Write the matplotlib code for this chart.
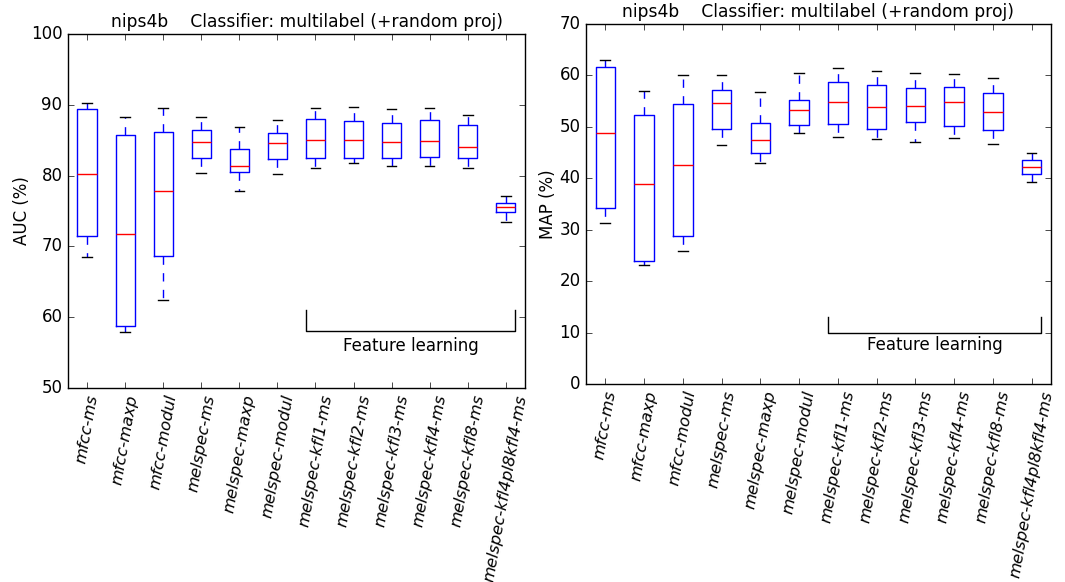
import matplotlib
matplotlib.use("Agg")
import matplotlib.pyplot as plt

plt.style.use('classic')
plt.rcParams['font.family'] = ['DejaVu Sans']
plt.rcParams['font.size'] = 12

labels = ['mfcc-ms', 'mfcc-maxp', 'mfcc-modul', 'melspec-ms', 'melspec-maxp',
          'melspec-modul', 'melspec-kfl1-ms', 'melspec-kfl2-ms', 'melspec-kfl3-ms',
          'melspec-kfl4-ms', 'melspec-kfl8-ms', 'melspec-kfl4pl8kfl4-ms']

# AUC (%) box stats: whisker low, q1, median, q3, whisker high
auc_lo  = [68.5, 57.9, 62.4, 80.4, 77.9, 80.3, 81.1, 81.8, 81.3, 81.4, 81.1, 73.5]
auc_q1  = [71.5, 58.7, 68.6, 82.5, 80.5, 82.3, 82.5, 82.5, 82.5, 82.6, 82.5, 74.8]
auc_med = [80.3, 71.7, 77.8, 84.8, 81.3, 84.6, 85.0, 85.0, 84.8, 84.9, 84.0, 75.6]
auc_q3  = [89.4, 85.8, 86.2, 86.5, 83.7, 86.0, 88.0, 87.7, 87.4, 87.8, 87.1, 76.2]
auc_hi  = [90.3, 88.3, 89.6, 88.3, 86.9, 87.9, 89.5, 89.7, 89.4, 89.5, 88.6, 77.1]

# MAP (%) box stats
map_lo  = [31.3, 23.1, 25.9, 46.4, 42.9, 48.9, 48.1, 47.6, 47.1, 47.8, 46.6, 39.3]
map_q1  = [34.2, 24.0, 28.8, 49.6, 44.9, 50.4, 50.5, 49.6, 50.9, 50.1, 49.4, 40.8]
map_med = [48.9, 38.8, 42.6, 54.7, 47.4, 53.3, 54.8, 53.9, 54.0, 54.8, 52.8, 42.1]
map_q3  = [61.7, 52.3, 54.5, 57.2, 50.8, 55.2, 58.7, 58.1, 57.5, 57.8, 56.5, 43.6]
map_hi  = [63.0, 56.9, 60.1, 60.1, 56.8, 60.4, 61.5, 60.9, 60.5, 60.2, 59.4, 44.9]

title = 'nips4b    Classifier: multilabel (+random proj)'


def make_stats(lo, q1, med, q3, hi):
    return [{'whislo': a, 'q1': b, 'med': c, 'q3': d, 'whishi': e, 'fliers': []}
            for a, b, c, d, e in zip(lo, q1, med, q3, hi)]


def draw_panel(ax, stats, ylabel, ylim, bracket_y, text_y, label_x, title_x):
    ax.bxp(stats, showfliers=False)
    ax.set_xlim(0.5, len(labels) + 0.5)
    ax.set_ylim(*ylim)
    ax.set_xticks(range(1, len(labels) + 1))
    ax.set_xticklabels(labels, rotation=80, style='italic', fontsize=11.7)
    ax.set_ylabel(ylabel)
    ax.yaxis.set_label_coords(label_x, 0.5)
    ax.set_title(title, fontsize=12.3, x=title_x)
    # bracket marking the feature learning group
    top, bottom = bracket_y
    ax.plot([6.75, 6.75, 12.25, 12.25], [top, bottom, bottom, top], color='k', lw=1)
    ax.text(9.5, text_y, 'Feature learning', ha='center', va='center')


fig = plt.figure(figsize=(10.65, 5.82), dpi=100, facecolor='white')
ax1 = fig.add_axes([0.0638, 0.3333, 0.4291, 0.6082])
ax2 = fig.add_axes([0.5502, 0.3402, 0.4366, 0.6186])

draw_panel(ax1, make_stats(auc_lo, auc_q1, auc_med, auc_q3, auc_hi),
           'AUC (%)', (50, 100), (61, 58), 56, -0.081, 0.524)
draw_panel(ax2, make_stats(map_lo, map_q1, map_med, map_q3, map_hi),
           'MAP (%)', (0, 70), (13, 10), 7.5, -0.062, 0.5)

fig.savefig('out.png', dpi=100, facecolor='white')
